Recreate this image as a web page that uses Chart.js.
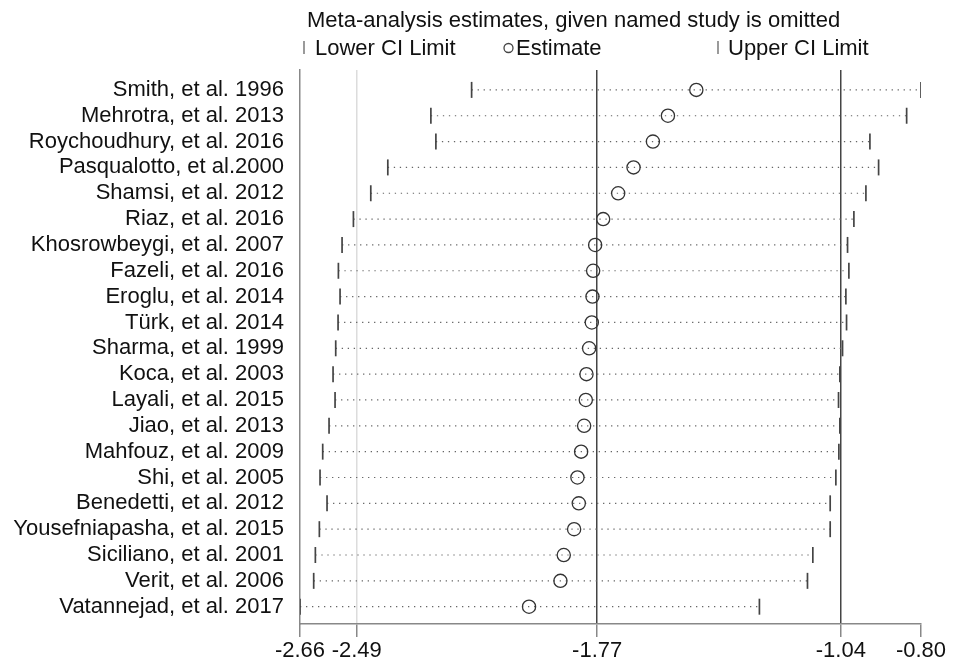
<!DOCTYPE html>
<html>
<head>
<meta charset="utf-8">
<script src="https://cdn.jsdelivr.net/npm/chart.js@4.4.1/dist/chart.umd.min.js"></script>
<style>
  html, body { margin: 0; padding: 0; background: #fff; }
  #wrap { width: 953px; height: 665px; }
</style>
</head>
<body>
<div id="wrap"><canvas id="metaChart" width="953" height="665"></canvas></div>
<script>
// studies, top to bottom
const studies = [
  'Smith, et al. 1996', 'Mehrotra, et al. 2013', 'Roychoudhury, et al. 2016',
  'Pasqualotto, et al.2000', 'Shamsi, et al. 2012', 'Riaz, et al. 2016',
  'Khosrowbeygi, et al. 2007', 'Fazeli, et al. 2016', 'Eroglu, et al. 2014',
  'Türk, et al. 2014', 'Sharma, et al. 1999', 'Koca, et al. 2003',
  'Layali, et al. 2015', 'Jiao, et al. 2013', 'Mahfouz, et al. 2009',
  'Shi, et al. 2005', 'Benedetti, et al. 2012', 'Yousefniapasha, et al. 2015',
  'Siciliano, et al. 2001', 'Verit, et al. 2006', 'Vatannejad, et al. 2017'
];
const lowerCI = [-2.146, -2.268, -2.253, -2.397, -2.448, -2.500, -2.534, -2.545, -2.540, -2.546,
  -2.553, -2.561, -2.555, -2.573, -2.592, -2.600, -2.579, -2.602, -2.614, -2.619, -2.660];
const estimate = [-1.473, -1.558, -1.603, -1.661, -1.707, -1.752, -1.776, -1.782, -1.784, -1.786,
  -1.794, -1.802, -1.804, -1.809, -1.818, -1.829, -1.825, -1.839, -1.870, -1.880, -1.974];
const upperCI = [-0.800, -0.843, -0.953, -0.927, -0.965, -1.001, -1.020, -1.016, -1.025, -1.023,
  -1.035, -1.043, -1.047, -1.043, -1.046, -1.055, -1.072, -1.072, -1.124, -1.140, -1.284];
const xTicks = [-2.66, -2.49, -1.77, -1.04, -0.80];

const FONT = '"Liberation Sans", Arial, sans-serif';

// header: title + legend row
const header = {
  id: 'header',
  afterDraw(chart) {
    const ctx = chart.ctx;
    ctx.save();
    ctx.fillStyle = '#111';
    ctx.font = '22px ' + FONT;
    ctx.textBaseline = 'alphabetic';
    ctx.fillText('Meta-analysis estimates, given named study is omitted', 307, 27);
    ctx.fillText('Lower CI Limit', 315, 55);
    ctx.fillText('Estimate', 516, 55);
    ctx.fillText('Upper CI Limit', 728, 55);
    ctx.strokeStyle = '#666';
    ctx.lineWidth = 1.3;
    ctx.beginPath();
    ctx.moveTo(304, 41); ctx.lineTo(304, 54);
    ctx.moveTo(718, 41); ctx.lineTo(718, 54);
    ctx.stroke();
    ctx.strokeStyle = '#444';
    ctx.beginPath();
    ctx.arc(508.5, 48, 4.5, 0, Math.PI * 2);
    ctx.stroke();
    ctx.restore();
  }
};

const rows = studies.map((s, i) => i);

const lineSets = rows.map(i => ({
  type: 'line',
  data: [{x: lowerCI[i], y: i}, {x: upperCI[i], y: i}],
  borderColor: '#666',
  borderWidth: 1.2,
  borderDash: [1.3, 4.7],
  pointRadius: 0,
  order: 2
}));

const ctx = document.getElementById('metaChart').getContext('2d');
new Chart(ctx, {
  type: 'scatter',
  data: {
    datasets: [
      {
        label: 'Lower CI Limit',
        data: rows.map(i => ({x: lowerCI[i], y: i})),
        pointStyle: 'line', pointRotation: 90, pointRadius: 8,
        pointBorderColor: '#444', pointBorderWidth: 1.7, order: 0
      },
      {
        label: 'Estimate',
        data: rows.map(i => ({x: estimate[i], y: i})),
        pointStyle: 'circle', pointRadius: 6.6,
        pointBorderColor: '#333', pointBorderWidth: 1.3,
        pointBackgroundColor: 'rgba(0,0,0,0)', order: 0
      },
      {
        label: 'Upper CI Limit',
        data: rows.map(i => ({x: upperCI[i], y: i})),
        pointStyle: 'line', pointRotation: 90, pointRadius: 8,
        pointBorderColor: '#444', pointBorderWidth: 1.7, order: 0
      },
      ...lineSets
    ]
  },
  options: {
    responsive: false,
    animation: false,
    layout: { padding: { top: 70, right: 32, left: 0, bottom: 0 } },
    plugins: { legend: { display: false }, tooltip: { enabled: false } },
    scales: {
      x: {
        type: 'linear',
        min: -2.66, max: -0.80,
        afterBuildTicks: sc => { sc.ticks = xTicks.map(v => ({value: v})); },
        afterFit: sc => { sc.height = 41; },
        ticks: {
          autoSkip: false, maxRotation: 0, padding: 1,
          color: '#111', font: { family: FONT, size: 22 },
          callback: v => v.toFixed(2)
        },
        grid: {
          drawOnChartArea: true,
          color: c => {
            const v = c.tick ? c.tick.value : null;
            if (v === -2.49) return '#dcdcdc';
            if (v === -1.77 || v === -1.04) return '#444';
            return 'rgba(0,0,0,0)';
          },
          lineWidth: 1.5,
          tickColor: '#888', tickLength: 13, tickWidth: 1.5
        },
        border: { display: true, color: '#888', width: 1.5 }
      },
      y: {
        type: 'linear',
        reverse: true,
        min: -0.77, max: 20.67,
        afterBuildTicks: sc => { sc.ticks = rows.map(v => ({value: v})); },
        afterFit: sc => { sc.width = 300; },
        ticks: {
          autoSkip: false, padding: 8,
          color: '#111', font: { family: FONT, size: 22 },
          callback: v => studies[v]
        },
        grid: { display: false },
        border: { display: true, color: '#888', width: 1.5 }
      }
    }
  },
  plugins: [header]
});
</script>
</body>
</html>
